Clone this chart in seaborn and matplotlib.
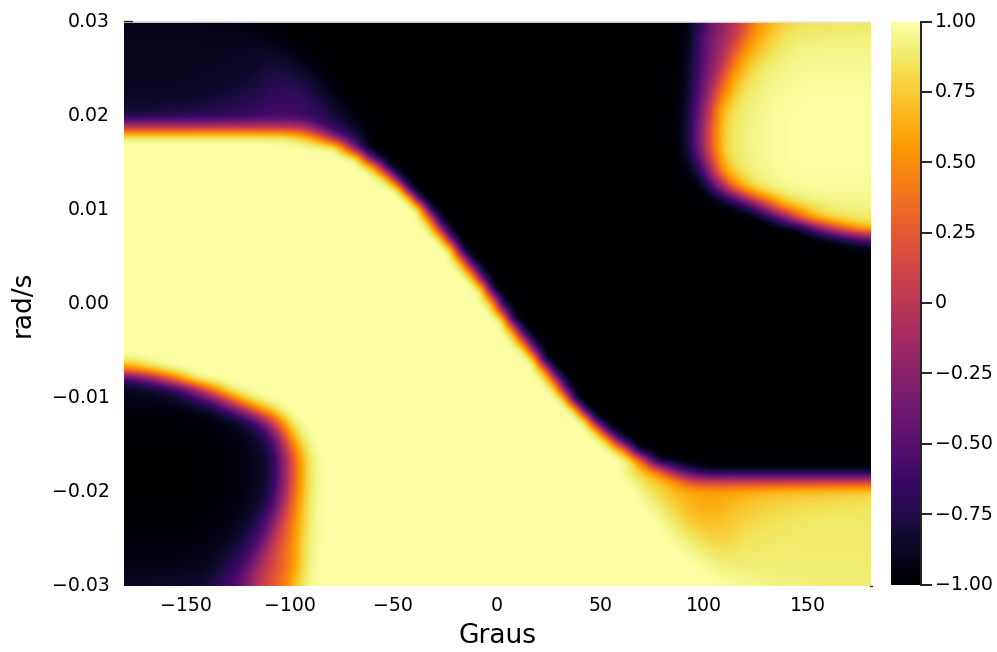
# Stability map: heatmap over angle (Graus) and angular speed (rad/s)
import numpy as np
import matplotlib
matplotlib.use("Agg")
import matplotlib.pyplot as plt
from matplotlib.transforms import ScaledTranslation
import seaborn as sns

# tick values and labels
x_ticks = [-150, -100, -50, 0, 50, 100, 150]
x_labels = ["\u2212150", "\u2212100", "\u221250", "0", "50", "100", "150"]
y_ticks = [0.03, 0.02, 0.01, 0.00, -0.01, -0.02, -0.03]
y_labels = ["0.03", "0.02", "0.01", "0.00", "\u22120.01", "\u22120.02", "\u22120.03"]
cbar_ticks = [1, 0.75, 0.5, 0.25, 0, -0.25, -0.5, -0.75, -1]
cbar_labels = ["1.00", "0.75", "0.50", "0.25", "0", "\u22120.25", "\u22120.50", "\u22120.75", "\u22121.00"]

# values, 5 degree columns, top row first
# columns -177.5 ... -2.5
left_part = [
    [-.9] * 5 + [-.91, -.91, -.92, -.92, -.93, -.94, -.95, -.96, -.97, -.98, -.99] + [-1] * 20,
    [-.9] * 9 + [-.91, -.91, -.91, -.92, -.93, -.95, -.97, -.99] + [-1] * 19,
    [-.89] * 7 + [-.9] * 5 + [-.88, -.89, -.9, -.93, -.96, -.98] + [-1] * 18,
    [-.89] * 7 + [-.89, -.89, -.89, -.88, -.88, -.87] + [-.85, -.85, -.87, -.91, -.96, -.98] + [-1] * 17,
    [-.89] * 7 + [-.89, -.88, -.88, -.87, -.86, -.85] + [-.81, -.8, -.81, -.85, -.91, -.95, -.98] + [-1] * 16,
    [-.89, -.89, -.89, -.89, -.89, -.89, -.88, -.88, -.87, -.86, -.85, -.83, -.82] + [-.77, -.75, -.75, -.78, -.83, -.9, -.96] + [-1] * 16,
    [-.88, -.88, -.88, -.88, -.88, -.87, -.87, -.86, -.85, -.84, -.82, -.8, -.78, -.76] + [-.71, -.7, -.71, -.76, -.83, -.91, -.98] + [-1] * 15,
    [-.87, -.86, -.86, -.86, -.85, -.85, -.84, -.83, -.82, -.8, -.78, -.76, -.73, -.71] + [-.66, -.65, -.66, -.7, -.77, -.85, -.93, -.98] + [-1] * 14,
    [-.83, -.82, -.82, -.81, -.8, -.8, -.79, -.78, -.77, -.75, -.73, -.71, -.68, -.66] + [-.62, -.61, -.62, -.66, -.71, -.78, -.87, -.94] + [-1] * 14,
    [-.75, -.74, -.73, -.73, -.72, -.71, -.7, -.69, -.68, -.66, -.65, -.63, -.62, -.6, -.58] + [-.58, -.58, -.62, -.66, -.72, -.8, -.87, -.97] + [-1] * 13,
    [.05] * 15 + [.02, -.02, -.1, -.4, -.6, -.72, -.78, -.9, -.98] + [-1] * 12,
    [.97] * 13 + [.96, .96, .94, .88, .75, .55, .15, -.3, -.62, -.75, -.93] + [-1] * 12,
    [1] * 21 + [.25, -.6] + [-1] * 13,
    [1] * 23 + [-.25, -.9] + [-1] * 11,
    [1] * 24 + [.4, -.9] + [-1] * 10,
    [1] * 25 + [.7, -.85] + [-1] * 9,
    [1] * 27 + [-1] * 9,
    [1] * 28 + [-1] * 8,
    [1] * 29 + [-1] * 7,
    [1] * 29 + [.4] + [-1] * 6,
    [1] * 30 + [-.2] + [-1] * 5,
    [1] * 31 + [-.6] + [-1] * 4,
    [1] * 32 + [-1] * 4,
    [1] * 32 + [.4] + [-1] * 3,
    [1] * 33 + [0, -1, -1],
    [1] * 34 + [-.48, -1],
    [1] * 35 + [-1],
    [1] * 35 + [.4],
    [1] * 36,
    [1] * 36,
    [1] * 36,
    [1] * 36,
    [1] * 36,
    [.95, .97] + [1] * 34,
    [.45, .6, .75, .88, .95] + [1] * 31,
    [-.68, -.55, -.38, -.12, .2, .5, .85, .98] + [1] * 28,
    [-.89, -.88, -.86, -.83, -.75, -.62, -.35, .05, .42, .75, .95] + [1] * 25,
    [-.92, -.92, -.91, -.9, -.87, -.83, -.72, -.6, -.4, -.05, .35, .68, .9, .97] + [1] * 22,
    [-.95] * 5 + [-.94, -.92, -.88, -.82, -.65, -.45, -.1, .3, .6, .85, .98] + [1] * 20,
    [-.97] * 7 + [-.96, -.95, -.92, -.87, -.75, -.55, -.15, .3, .75, .97] + [1] * 19,
    [-.98] * 8 + [-.97, -.95, -.92, -.88, -.77, -.6, -.15, .4, .85, .97] + [1] * 18,
    [-.99] * 6 + [-.98, -.98, -.98, -.97, -.95, -.92, -.87, -.75, -.5, .15, .65, .93] + [1] * 18,
    [-1] * 7 + [-.99, -.98, -.97, -.96, -.93, -.89, -.85, -.6, -.05, .45, .85, .98] + [1] * 17,
    [-1] * 7 + [-.99, -.98, -.97, -.96, -.94, -.9, -.87, -.68, -.2, .32, .78, .97] + [1] * 17,
    [-1] * 7 + [-.99, -.98, -.97, -.96, -.94, -.9, -.87, -.66, -.2, .32, .77, .96] + [1] * 17,
    [-1] * 7 + [-.99, -.98, -.97, -.96, -.94, -.9, -.86, -.65, -.2, .32, .77, .96] + [1] * 17,
    [-1] * 6 + [-.99, -.99, -.98, -.97, -.96, -.93, -.89, -.85, -.62, -.12, .37, .78, .96] + [1] * 17,
    [-.99] * 7 + [-.98, -.98, -.97, -.95, -.92, -.88, -.8, -.57, -.05, .41, .8, .97] + [1] * 17,
    [-.99] * 6 + [-.98, -.98, -.97, -.96, -.94, -.9, -.87, -.7, -.45, .08, .46, .82, .97] + [1] * 17,
    [-.98] * 7 + [-.97, -.96, -.95, -.92, -.88, -.8, -.6, -.27, .17, .5, .83, .97] + [1] * 17,
    [-.97] * 7 + [-.96, -.95, -.93, -.9, -.85, -.7, -.55, -.09, .25, .53, .85, .97] + [1] * 17,
    [-.96] * 7 + [-.95, -.93, -.91, -.87, -.77, -.62, -.38, .05, .28, .55, .86, .97] + [1] * 17,
    [-.95] * 6 + [-.94, -.93, -.91, -.87, -.8, -.7, -.55, -.2, .1, .33, .58, .87, .98] + [1] * 17,
    [-.94] * 5 + [-.93, -.93, -.91, -.88, -.82, -.72, -.6, -.38, -.06, .15, .36, .58, .88, .98] + [1] * 17,
    [-.92, -.91, -.91, -.91, -.91, -.9, -.9, -.88, -.85, -.76, -.66, -.52, -.23, .02, .2, .38, .6, .9, .98] + [1] * 17,
    [-.88, -.88, -.87, -.87, -.86, -.86, -.85, -.83, -.78, -.68, -.58, -.4, -.12, .08, .25, .42, .7, .92, .98] + [1] * 17,
]
# columns 2.5 ... 177.5
right_part = [
    [-1] * 17 + [-.98, -.92, -.7, -.42, -.25, -.08, .12, .4, .58, .68, .78, .83, .85, .86, .86, .87, .87, .88, .88],
    [-1] * 17 + [-.98, -.9, -.6, -.38, -.2, -.02, .23, .52, .66, .76, .85, .88, .9, .9, .91, .91, .91, .91, .92],
    [-1] * 17 + [-.98, -.88, -.58, -.36, -.15, .06, .38, .6, .72, .82, .88, .91, .93, .93, .94, .94, .94, .94, .94],
    [-1] * 17 + [-.98, -.87, -.58, -.33, -.1, .2, .55, .7, .8, .87, .91, .93, .94, .95, .95, .95, .95, .95, .95],
    [-1] * 17 + [-.97, -.86, -.55, -.28, -.05, .38, .62, .77, .87, .91, .93, .95, .96, .96, .96, .96, .96, .96, .96],
    [-1] * 17 + [-.97, -.85, -.53, -.25, .09, .55, .7, .85, .9, .93, .95, .96, .97, .97, .97, .97, .97, .97, .97],
    [-1] * 17 + [-.97, -.83, -.5, -.17, .27, .6, .8, .88, .92, .95, .96, .97, .98, .98, .98, .98, .98, .98, .98],
    [-1] * 17 + [-.97, -.82, -.46, -.08, .45, .7, .87, .9, .94, .96, .97, .98, .98, .99, .99, .99, .99, .99, .99],
    [-1] * 17 + [-.97, -.8, -.41, .05, .57, .8, .88, .92, .95, .97, .98, .98, .99, .99, .99, .99, .99, .99, .99],
    [-1] * 17 + [-.96, -.78, -.37, .12, .62, .85, .89, .93, .96, .97, .98, .99, .99, 1, 1, 1, 1, 1, 1],
    [-1] * 17 + [-.96, -.77, -.32, .2, .65, .86, .9, .94, .96, .97, .98, .99, 1, 1, 1, 1, 1, 1, 1],
    [-1] * 17 + [-.96, -.77, -.32, .2, .66, .87, .9, .94, .96, .97, .98, .99, 1, 1, 1, 1, 1, 1, 1],
    [-1] * 17 + [-.97, -.78, -.32, .2, .68, .87, .9, .94, .96, .97, .98, .99, 1, 1, 1, 1, 1, 1, 1],
    [-1] * 17 + [-.98, -.85, -.45, .05, .6, .85, .89, .93, .96, .97, .98, .99, 1, 1, 1, 1, 1, 1, 1],
    [-1] * 18 + [-.93, -.65, -.15, .5, .75, .87, .92, .95, .97, .98, .98, .98, .99, .99, .99, .99, .99, .99],
    [-1] * 18 + [-.97, -.85, -.4, .15, .6, .77, .88, .92, .95, .97, .98, .98, .98, .98, .98, .98, .98, .98],
    [-1] * 19 + [-.97, -.75, -.3, .15, .55, .75, .87, .92, .95, .96, .97, .97, .97, .97, .97, .97, .97],
    [-1] * 20 + [-.98, -.85, -.6, -.3, .1, .45, .65, .82, .88, .92, .94, .95, .95, .95, .95, .95],
    [-1] * 22 + [-.97, -.9, -.68, -.35, .05, .4, .6, .72, .83, .87, .9, .91, .92, .92],
    [-1] * 25 + [-.95, -.75, -.42, -.05, .35, .62, .75, .83, .86, .88, .89],
    [-1] * 28 + [-.98, -.85, -.5, -.2, .12, .38, .55, .68],
    [-1] * 31 + [-.95, -.88, -.75, -.6, -.45],
    [-1] * 34 + [-.97, -.95],
    [-1] * 36,
    [-1] * 36,
    [-1] * 36,
    [-1] * 36,
    [-1] * 36,
    [-.4] + [-1] * 35,
    [1] + [-1] * 35,
    [1, .48] + [-1] * 34,
    [1, 1, 0] + [-1] * 33,
    [1, 1, 1, -.4] + [-1] * 32,
    [1] * 4 + [-1] * 32,
    [1] * 4 + [.6] + [-1] * 31,
    [1] * 5 + [.2] + [-1] * 30,
    [1] * 6 + [-.4] + [-1] * 29,
    [1] * 7 + [-1] * 29,
    [1] * 8 + [-1] * 28,
    [1] * 9 + [-1] * 27,
    [1] * 9 + [.85, -.7] + [-1] * 25,
    [1] * 10 + [.9, -.4] + [-1] * 24,
    [1] * 11 + [.9, .25] + [-1] * 23,
    [1] * 13 + [.6, -.25] + [-1] * 21,
    [1] * 12 + [.93, .75, .62, .3, -.15, -.55, -.75, -.88, -.94, -.96, -.96] + [-.97] * 13,
    [1] * 12 + [.98, .9, .78, .72, .6, .4, .1, .02, -.02] + [-.05] * 15,
    [1] * 13 + [.97, .87, .8, .72, .66, .62, .58, .58] + [.58, .6, .62, .63, .65, .66, .68, .69, .7, .71, .72, .73, .73, .74, .75],
    [1] * 14 + [.94, .87, .78, .71, .66, .62, .61, .62] + [.66, .68, .71, .73, .75, .77, .78, .79, .8, .8, .81, .82, .82, .83],
    [1] * 14 + [.98, .93, .85, .77, .7, .66, .65, .66] + [.71, .73, .76, .78, .8, .82, .83, .84, .85, .85, .86, .86, .86, .87],
    [1] * 15 + [.98, .91, .83, .76, .71, .7, .71] + [.76, .78, .8, .82, .84, .85, .86, .87, .87, .88, .88, .88, .88, .88],
    [1] * 16 + [.96, .9, .83, .78, .75, .75, .77] + [.82, .83, .85, .86, .87, .88, .88, .89, .89, .89, .89, .89, .89],
    [1] * 16 + [.98, .95, .91, .85, .81, .8, .81] + [.85, .86, .87, .88, .88, .89] + [.89] * 7,
    [1] * 17 + [.98, .96, .91, .87, .85, .85] + [.87, .88, .88, .89, .89, .89] + [.89] * 7,
    [1] * 18 + [.98, .96, .93, .9, .89, .88] + [.9, .9, .9, .9, .9] + [.89] * 7,
    [1] * 19 + [.99, .97, .95, .93, .92, .91] + [.91, .91, .9, .9] + [.9] * 7,
    [1] * 20 + [.99, .98, .97, .96, .95, .94, .93, .92, .92, .91, .91, .9, .9, .9, .9, .9],
]

z_values = np.hstack([np.array(left_part, dtype=float), np.array(right_part, dtype=float)])
ny, nx = z_values.shape

sns.set_style("white")
W, H = 997, 652
fig = plt.figure(figsize=(W / 100, H / 100), dpi=100)
ax = fig.add_axes([124 / W, (H - 586) / H, 746 / W, 564 / H])
cax = fig.add_axes([891 / W, (H - 584.5) / H, 30 / W, 563 / H])

sns.heatmap(z_values, ax=ax, cbar_ax=cax, cmap="inferno", vmin=-1, vmax=1,
            xticklabels=False, yticklabels=False, cbar_kws={"ticks": cbar_ticks})
# smooth the cells like the original field
ax.imshow(z_values, cmap="inferno", vmin=-1, vmax=1, extent=(0, nx, ny, 0), aspect="auto",
          interpolation="bicubic", interpolation_stage="data", zorder=2)
ax.set_xlim(0, nx)
ax.set_ylim(ny, 0)

# data values to cell positions of the heatmap
ax.set_xticks([(v + 180) / 360 * nx for v in x_ticks])
ax.set_xticklabels(x_labels)
ax.set_yticks([(0.03 - v) / 0.06 * ny for v in y_ticks])
ax.set_yticklabels(y_labels, rotation=0)
ax.tick_params(axis="x", length=0, pad=7, labelsize=13.6, labelcolor="black")
ax.tick_params(axis="y", length=0, pad=10, labelsize=13.6, labelcolor="black")
ax.set_xlabel("Graus", fontsize=19, color="black")
ax.set_ylabel("rad/s", fontsize=19, color="black")
ax.xaxis.set_label_coords(0.5, -0.0656)
ax.yaxis.set_label_coords(-0.118, 0.5)

for name, spine in ax.spines.items():
    spine.set_visible(name == "top")
ax.spines["top"].set_color("#e6e6e6")
ax.spines["top"].set_linewidth(1.2)
# the two small marks at the corners of the plot
ax.plot([0, 0.77], [-0.06, -0.06], color="#222222", lw=1, clip_on=False, zorder=5)
ax.plot([nx, nx + 0.2], [ny, ny], color="#222222", lw=1, clip_on=False, zorder=5)

cbar = ax.collections[0].colorbar
cbar.outline.set_visible(False)
cbar.set_ticklabels(cbar_labels)
cax.tick_params(axis="y", length=7.7, width=1.4, pad=2.2, labelsize=13.6, color="#222222",
                labelcolor="black", right=True)
cax.spines["right"].set_visible(True)
cax.spines["right"].set_color("#222222")
cax.spines["right"].set_linewidth(1.4)

# tick texts sit a little higher in the reference
lift = ScaledTranslation(0, 1.5 / 72, fig.dpi_scale_trans)
for lab in ax.get_yticklabels() + cax.get_yticklabels():
    lab.set_transform(lab.get_transform() + lift)

fig.savefig("out.png", dpi=100)
